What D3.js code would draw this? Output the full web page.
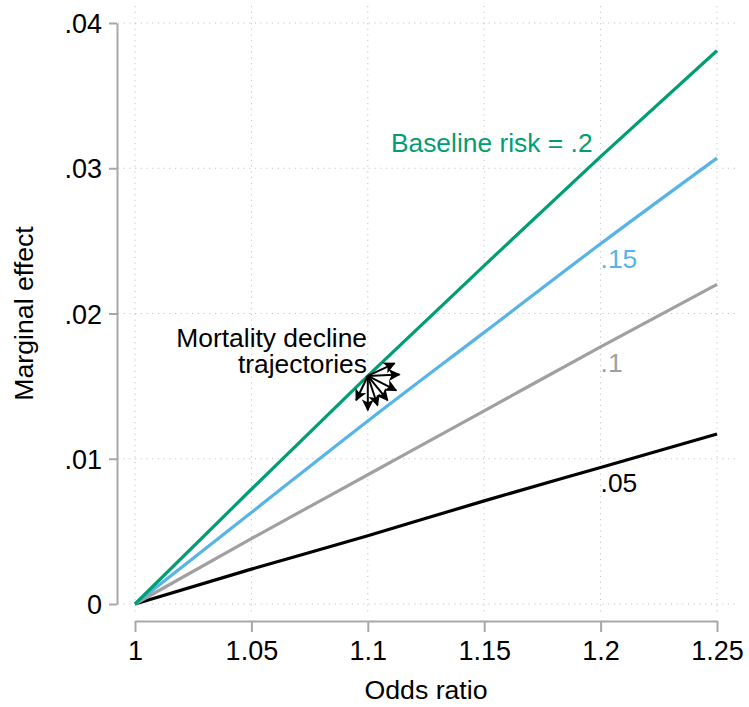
<!DOCTYPE html>
<html>
<head>
<meta charset="utf-8">
<script src="https://d3js.org/d3.v7.min.js"></script>
<style>
  body { margin: 0; background: #fff; }
  svg text { font-family: "Liberation Sans", Arial, Helvetica, sans-serif; }
  .grid line { stroke: #c4c4c4; stroke-width: 1; stroke-dasharray: 1.2,4.5; }
  .axis path, .axis line { stroke: #a8a8a8; stroke-width: 2; }
  .axis text { fill: #000; font-size: 27px; }
</style>
</head>
<body>
<svg id="chart" width="749" height="707"></svg>
<script>
// odds ratio values where the curves were read
var oddsRatio = [1, 1.05, 1.1, 1.15, 1.2, 1.25];

// marginal effect, one array per baseline risk
var risk20 = [0, 0.0079, 0.0157, 0.0233, 0.0308, 0.0381];
var risk15 = [0, 0.0063, 0.0126, 0.0187, 0.0248, 0.0307];
var risk10 = [0, 0.0045, 0.0089, 0.0133, 0.0177, 0.0220];
var risk05 = [0, 0.0024, 0.0047, 0.0071, 0.0094, 0.0117];

var seriesLabels = ["Baseline risk = .2", ".15", ".1", ".05"];
var seriesColors = ["#009e73", "#56b4e9", "#a0a0a0", "#000000"];

var xTicks = [1, 1.05, 1.1, 1.15, 1.2, 1.25];
var xTickLabels = ["1", "1.05", "1.1", "1.15", "1.2", "1.25"];
var yTicks = [0, 0.01, 0.02, 0.03, 0.04];
var yTickLabels = ["0", ".01", ".02", ".03", ".04"];

// trajectory arrows: start point and tips (odds ratio, marginal effect)
var arrowStart = [1.1, 0.0157];
var arrowTipOR = [1.1115, 1.1136, 1.1122, 1.1085, 1.1042, 1.1, 1.095];
var arrowTipME = [0.01657, 0.01580, 0.01471, 0.01403, 0.01368, 0.01334, 0.01403];

var annotation = ["Mortality decline", "trajectories"];

var svg = d3.select("#chart");

var x = d3.scaleLinear().domain([1, 1.25]).range([135, 717]);
var y = d3.scaleLinear().domain([0, 0.04]).range([604, 23]);

// grid
var grid = svg.append("g").attr("class", "grid");
grid.selectAll("line.v").data(xTicks).enter().append("line")
  .attr("x1", d => x(d)).attr("x2", d => x(d))
  .attr("y1", 6).attr("y2", 614);
grid.selectAll("line.h").data(yTicks).enter().append("line")
  .attr("x1", 118).attr("x2", 736)
  .attr("y1", d => y(d)).attr("y2", d => y(d));

// axes
var yAxis = d3.axisLeft(y).tickValues(yTicks)
  .tickFormat((d, i) => yTickLabels[i]).tickSizeInner(8).tickSizeOuter(0).tickPadding(7);
svg.append("g").attr("class", "axis").attr("transform", "translate(117,0)").call(yAxis)
  .selectAll("text").attr("dy", "0.36em");

var xAxis = d3.axisBottom(x).tickValues(xTicks)
  .tickFormat((d, i) => xTickLabels[i]).tickSizeInner(11).tickSizeOuter(0).tickPadding(9);
svg.append("g").attr("class", "axis").attr("transform", "translate(0,621)").call(xAxis)
  .selectAll("text").attr("dy", "0.71em");

svg.append("text").attr("x", (x(1) + x(1.25)) / 2).attr("y", 699)
  .attr("text-anchor", "middle").style("font-size", "26.7px").text("Odds ratio");
svg.append("text")
  .attr("transform", "translate(33," + ((y(0) + y(0.04)) / 2) + ") rotate(-90)")
  .attr("text-anchor", "middle").style("font-size", "26.7px").text("Marginal effect");

// curves
var series = [risk20, risk15, risk10, risk05];
var line = d3.line().x((d, i) => x(oddsRatio[i])).y(d => y(d)).curve(d3.curveMonotoneX);

svg.selectAll("path.curve").data(series.slice().reverse()).enter().append("path")
  .attr("class", "curve")
  .attr("d", line)
  .attr("fill", "none")
  .attr("stroke", (d, i) => seriesColors[series.length - 1 - i])
  .attr("stroke-width", 3.2);

// curve labels
svg.append("text").attr("x", x(1.2) - 8).attr("y", y(0.0311))
  .attr("text-anchor", "end").attr("fill", seriesColors[0])
  .style("font-size", "26.4px").text(seriesLabels[0]);
var labelME = [null, 0.0231, 0.0160, 0.0077];
for (var k = 1; k < 4; k++) {
  svg.append("text").attr("x", x(1.2)).attr("y", y(labelME[k]))
    .attr("fill", seriesColors[k]).style("font-size", "26.4px").text(seriesLabels[k]);
}

// annotation
svg.append("text").attr("x", 367).attr("y", 347).attr("text-anchor", "end")
  .style("font-size", "26.4px").text(annotation[0]);
svg.append("text").attr("x", 367).attr("y", 373).attr("text-anchor", "end")
  .style("font-size", "26.4px").text(annotation[1]);

// arrows
svg.append("defs").append("marker")
  .attr("id", "head").attr("viewBox", "0 0 10 10")
  .attr("refX", 9).attr("refY", 5)
  .attr("markerWidth", 6).attr("markerHeight", 6)
  .attr("markerUnits", "strokeWidth")
  .attr("orient", "auto")
  .append("path").attr("d", "M0,0 L10,5 L0,10 L2.5,5 Z").attr("fill", "#000");

svg.selectAll("line.arrow").data(arrowTipOR).enter().append("line")
  .attr("class", "arrow")
  .attr("x1", x(arrowStart[0])).attr("y1", y(arrowStart[1]))
  .attr("x2", d => x(d)).attr("y2", (d, i) => y(arrowTipME[i]))
  .attr("stroke", "#000").attr("stroke-width", 2)
  .attr("marker-end", "url(#head)");
</script>
</body>
</html>
